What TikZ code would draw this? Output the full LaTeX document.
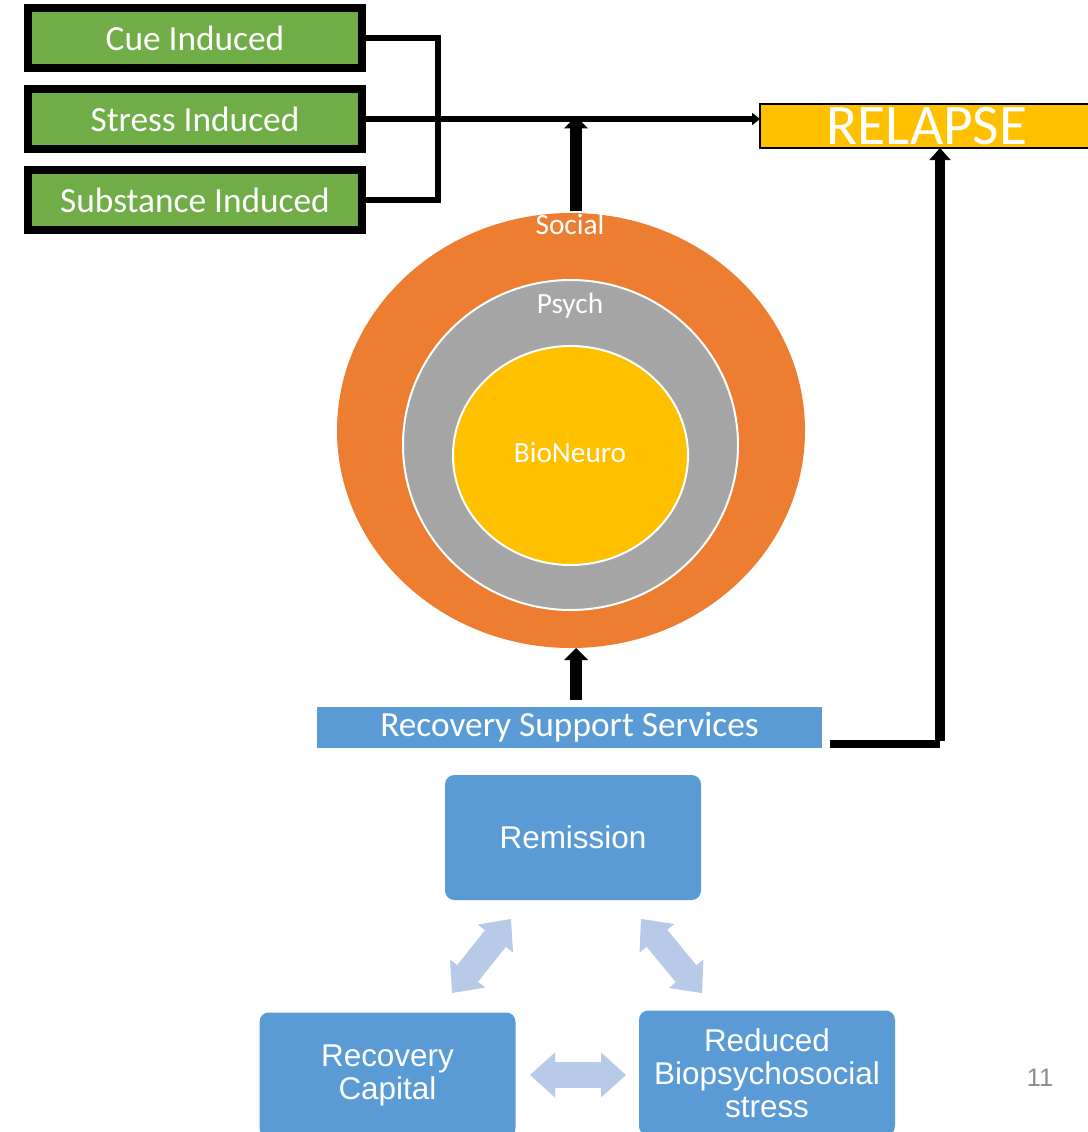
\documentclass[tikz,border=0pt]{standalone}
\usepackage{fontspec}
\setmainfont{Carlito}
\newfontfamily\arialf{Liberation Sans}
\usetikzlibrary{arrows.meta,shapes.geometric}
\definecolor{cgreen}{HTML}{70AD47}
\definecolor{corange}{HTML}{ED7D31}
\definecolor{cgray}{HTML}{A5A5A5}
\definecolor{cyellow}{HTML}{FFC000}
\definecolor{cblue}{HTML}{5B9BD5}
\definecolor{clight}{HTML}{B7CAE7}
\definecolor{cnum}{HTML}{8C8C8C}
\begin{document}
\begin{tikzpicture}[x=0.75pt,y=-0.75pt,
  greenbox/.style={draw=black,line width=6pt,fill=cgreen,minimum width=250.5pt,minimum height=45pt,inner sep=0pt,outer sep=0pt,text=white,font=\fontsize{26.5}{30}\selectfont},
  ring/.style={ellipse,inner sep=0pt,outer sep=0pt},
  ringlabel/.style={text=white,font=\fontsize{22}{25}\selectfont,anchor=base,inner sep=0pt},
  bluebox/.style={fill=cblue,rounded corners=7pt,minimum width=192pt,minimum height=93.75pt,inner sep=0pt,outer sep=0pt,text=white,align=center,font=\arialf\fontsize{23.6}{24.75}\selectfont},
  brk/.style={line width=4.5pt,draw=black},
  bigarrow/.style={line width=9pt,draw=black,-{Triangle[length=9pt,width=18pt,line width=0pt]}},
  midarrow/.style={line width=7.5pt,draw=black,-{Triangle[length=9pt,width=16pt,line width=0pt]}},
  smallarrow/.style={line width=4pt,draw=black,-{Triangle[length=6pt,width=9.5pt,line width=0pt]}},
  dblarrow/.style={line width=20pt,draw=clight,{Triangle[length=18.75pt,width=33.75pt,line width=0pt]}-{Triangle[length=18.75pt,width=33.75pt,line width=0pt]}}
]
\clip (0,0) rectangle (1088,1132);
\fill[white] (0,0) rectangle (1088,1132);

% green trigger boxes
\node[greenbox] (cue) at (195,38) {Cue Induced};
\node[greenbox] (stress) at (195,119) {Stress Induced};
\node[greenbox] (subst) at (195,200) {Substance Induced};

% relapse box
\node[draw=black,line width=1.2pt,fill=cyellow,minimum width=250.5pt,minimum height=33pt,inner sep=0pt,outer sep=0pt,text=white,font=\fontsize{43}{46}\selectfont] (relapse) at (927,126) {RELAPSE};

% rings
\node[ring,fill=corange,minimum width=351pt,minimum height=326.25pt] (social) at (571,430.5) {};
\node[ring,fill=cgray,draw=white,line width=1.5pt,minimum width=251.25pt,minimum height=247.5pt] (psych) at (570.5,445) {};
\node[ring,fill=cyellow,draw=white,line width=1.5pt,minimum width=176.25pt,minimum height=164.25pt] (bio) at (570.5,455.5) {};
\node[ringlabel] (socialtxt) at (570,234) {Social};
\node[ringlabel] (psychtxt) at (570,313) {Psych};
\node[ringlabel] (biotxt) at (570,462) {BioNeuro};

% recovery support services
\node[fill=cblue,minimum width=378.75pt,minimum height=30.75pt,inner sep=0pt,outer sep=0pt,text=white,font=\fontsize{26.5}{30}\selectfont] (rss) at (569.5,727.5) {Recovery Support Services};

% bottom cycle
\node[bluebox] (rem) at (573,837.5) {Remission};
\node[bluebox] (cap) at (387.5,1075) {Recovery\\Capital};
\node[bluebox] (red) at (767,1073) {Reduced\\Biopsychosocial\\stress};

% page number
\node[text=cnum,font=\arialf\fontsize{19}{22}\selectfont,inner sep=0pt] (pnum) at (1040,1078) {11};

% bracket joining the three triggers
\coordinate (bx) at (438,119);
\draw[brk] (cue.east) -| (bx) |- (subst.east);
\draw[smallarrow] (stress.east) -- (stress.east -| relapse.west);

% rings push up into the trigger line
\draw[bigarrow] ([xshift=3.75pt,yshift=1.5pt]social.north) -- ([xshift=3.75pt,yshift=2pt]social.north |- stress.east);
% services support the rings
\draw[bigarrow,shorten <=5.25pt] ([xshift=4.9pt]rss.north) -- ([xshift=4.9pt]rss.north |- social.south);
% services guard against relapse
\coordinate (rline) at ([xshift=6pt,yshift=3pt]rss.south east);
\draw[line width=6pt,draw=black] (rline) -- ([xshift=9.75pt]rline -| relapse.south);
\draw[midarrow] ([xshift=9.75pt,yshift=2.25pt]rline -| relapse.south) -- ([xshift=9.75pt]relapse.south);

% cycle arrows
\coordinate (l1) at (452,993);
\coordinate (l2) at (511,919);
\coordinate (r1) at (641,919);
\coordinate (r2) at (702,993);
\coordinate (h1) at (530,1075);
\coordinate (h2) at (626,1075);
\draw[dblarrow] (l1) -- (l2);
\draw[dblarrow] (r1) -- (r2);
\draw[dblarrow] (h1) -- (h2);
\end{tikzpicture}
\end{document}
